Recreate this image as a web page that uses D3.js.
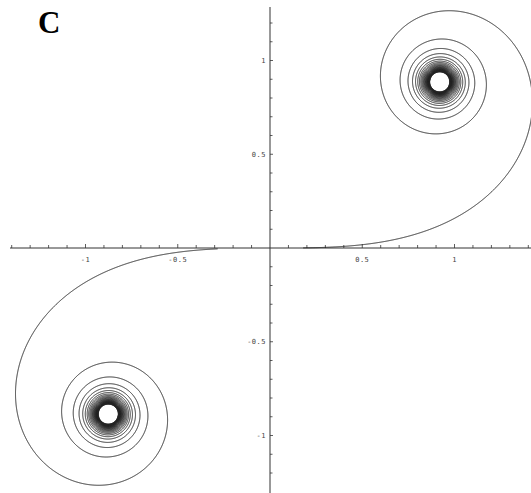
<!DOCTYPE html>
<html>
<head>
<meta charset="utf-8">
<script src="https://cdn.jsdelivr.net/npm/d3@7"></script>
<style>
  html, body { margin: 0; padding: 0; background: #fff; }
  svg { display: block; }
</style>
</head>
<body>
<svg id="chart" width="531" height="493"></svg>
<script>
// Cornu (Euler) spiral: x(t) = ∫ cos(u²/2) du, y(t) = ∫ sin(u²/2) du
const panelLabel = "C";
const branchRanges = [[-19, -0.3], [0.155, 19]];   // parameter t for each arm
const xTickLabels = [-1, -0.5, 0.5, 1];
const yTickLabels = [-1, -0.5, 0.5, 1];
const xMinorTicks = d3.range(-14, 15).map(d => d / 10);
const yMinorTicks = d3.range(-12, 13).map(d => d / 10);

const W = 531, H = 493;
const svg = d3.select("#chart");

// axis frame and plotting frame
const xAxisScale = d3.scaleLinear().domain([-1, 1]).range([85.5, 454.5]);
const xCurveScale = d3.scaleLinear().domain([-1, 1]).range([87, 461]);
const yScale = d3.scaleLinear().domain([-1, 1]).range([435.5, 60.5]);

const x0 = xAxisScale(0), y0 = yScale(0);

// numerical integration (Simpson steps) from t = 0 out to the arm's end
function arm(inner, outer) {
  const n = Math.ceil(Math.abs(outer) / 0.0015);
  const h = outer / n;
  let x = 0, y = 0;
  const pts = [];
  for (let i = 0; i <= n; i++) {
    const t = i * h;
    if (Math.abs(t) >= Math.abs(inner) - 1e-9) pts.push([x, y]);
    const ta = t, tb = t + h, tm = t + h / 2;
    x += h / 6 * (Math.cos(ta * ta / 2) + 4 * Math.cos(tm * tm / 2) + Math.cos(tb * tb / 2));
    y += h / 6 * (Math.sin(ta * ta / 2) + 4 * Math.sin(tm * tm / 2) + Math.sin(tb * tb / 2));
  }
  return pts;
}
const arms = branchRanges.map(([a, b]) => {
  const inner = Math.abs(a) < Math.abs(b) ? a : b;
  const outer = Math.abs(a) < Math.abs(b) ? b : a;
  return arm(inner, outer);
});

const line = d3.line().x(d => xCurveScale(d[0])).y(d => yScale(d[1]));

// axes
const axes = svg.append("g").attr("stroke", "#333").attr("stroke-width", 1);
axes.append("line").attr("x1", 10).attr("x2", W).attr("y1", y0).attr("y2", y0);
axes.append("line").attr("x1", x0).attr("x2", x0).attr("y1", 7).attr("y2", H);

const isMajor = v => Math.abs(v * 2 - Math.round(v * 2)) < 1e-9;
axes.selectAll(".xt").data(xMinorTicks.filter(v => v !== 0)).join("line")
  .attr("x1", d => xAxisScale(d)).attr("x2", d => xAxisScale(d))
  .attr("y1", y0).attr("y2", d => y0 - (isMajor(d) ? 4 : 3))
  .attr("stroke-width", 0.8);
axes.selectAll(".yt").data(yMinorTicks.filter(v => v !== 0)).join("line")
  .attr("y1", d => yScale(d)).attr("y2", d => yScale(d))
  .attr("x1", x0).attr("x2", d => x0 + (isMajor(d) ? 3 : 2.5))
  .attr("stroke-width", 0.8);

const fmt = v => String(v);
svg.selectAll(".xl").data(xTickLabels).join("text")
  .attr("x", d => xAxisScale(d)).attr("y", y0 + 14)
  .attr("text-anchor", "middle")
  .attr("font-family", "DejaVu Sans Mono, monospace").attr("font-size", 7)
  .attr("fill", "#444").attr("letter-spacing", 0.5)
  .text(fmt);
svg.selectAll(".yl").data(yTickLabels).join("text")
  .attr("x", x0 - 4).attr("y", d => yScale(d) + 2.5)
  .attr("text-anchor", "end")
  .attr("font-family", "DejaVu Sans Mono, monospace").attr("font-size", 7)
  .attr("fill", "#444").attr("letter-spacing", 0.5)
  .text(fmt);

// spiral arms
svg.append("g").selectAll("path").data(arms).join("path")
  .attr("d", line).attr("fill", "none")
  .attr("stroke", "#222").attr("stroke-width", 1);

// panel letter
svg.append("text").attr("x", 38).attr("y", 33)
  .attr("font-family", "Liberation Serif, Times New Roman, serif")
  .attr("font-weight", "bold").attr("font-size", 31)
  .attr("fill", "#000").text(panelLabel);
</script>
</body>
</html>
